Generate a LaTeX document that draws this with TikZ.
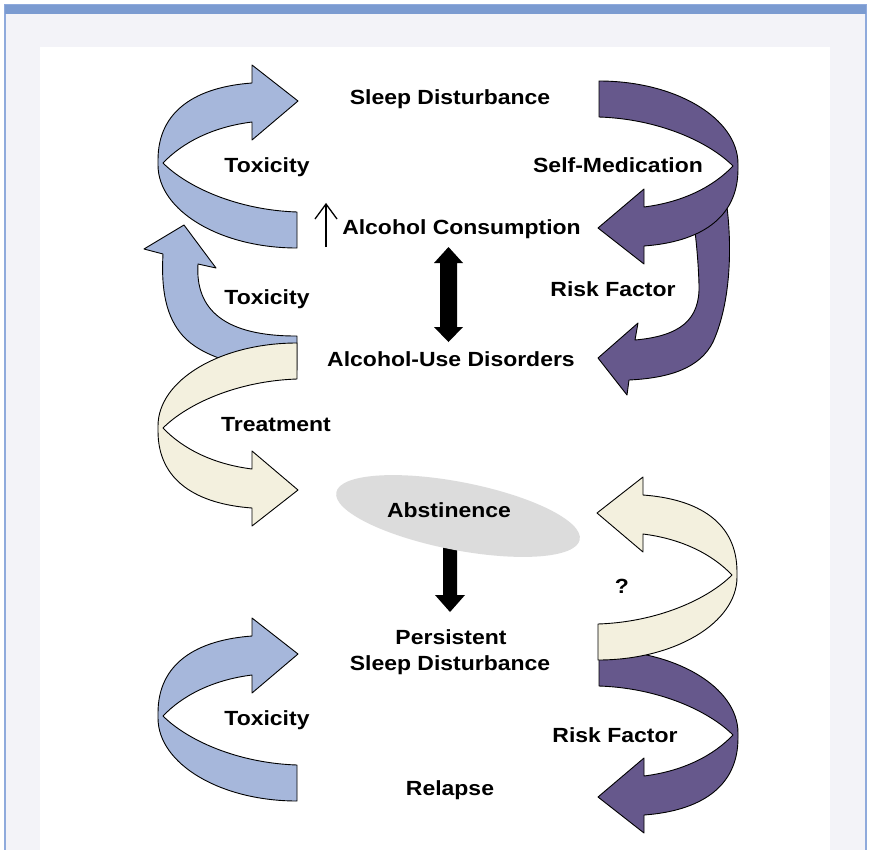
\documentclass[tikz,border=0pt]{standalone}
\usepackage{fontspec}
\newfontfamily\lab[FakeStretch=1.12]{Liberation Sans}
\definecolor{blueF}{RGB}{166,183,219}
\definecolor{purpF}{RGB}{102,88,140}
\definecolor{creamF}{RGB}{243,240,222}
\definecolor{grayE}{RGB}{220,220,220}
\definecolor{frameBar}{RGB}{123,155,209}
\definecolor{frameLine}{RGB}{143,170,220}
\definecolor{frameBg}{RGB}{243,243,248}
\newcommand\arrA{(0,83) .. controls (-76.7,83) and (-139,45.8) .. (-139,0) -- (-139,-5) .. controls (-139,-55) and (-100,-78) .. (-45,-82) -- (-45,-100) -- (1,-64) -- (-45,-25) -- (-45,-43) .. controls (-85,-38) and (-115,-22) .. (-134,-2) .. controls (-110,22) and (-60,45) .. (0,47) -- cycle}
\tikzset{
  lbl/.style={font=\lab\bfseries\fontsize{20.5}{24}\selectfont, inner sep=0pt, anchor=base},
  band/.style={draw=black, line width=0.9pt, line join=round},
}
\begin{document}
\begin{tikzpicture}[x=1pt,y=-1pt]
\useasboundingbox (0,0) rectangle (872,849);
% frame
\fill[white] (0,0) rectangle (872,849);
\draw[frameLine, line width=1.5pt, fill=frameBg] (5,5) rectangle (866,870);
\fill[frameBar] (5,5) rectangle (866,14);
\fill[white] (40,47) rectangle (830,870);

% top-left blue arrow
\begin{scope}[shift={(297,165)}]
  \draw[band, fill=blueF] \arrA;
\end{scope}
% second blue arrow (curving up)
\draw[band, fill=blueF] (297,336) -- (297,370) .. controls (240,370) and (200,355) .. (183,336)
  .. controls (166,317) and (161,290) .. (163,254) -- (144,249) -- (184,225) -- (216,268) -- (198,264)
  .. controls (195,310) and (225,336) .. (296,336) -- cycle;
% cream treatment arrow
\begin{scope}[shift={(297,426)}, yscale=-1]
  \draw[band, fill=creamF] \arrA;
\end{scope}

% second purple arrow (risk factor, top)
\draw[band, fill=purpF] (692,205) -- (726,200) .. controls (732,240) and (732,300) .. (713,342)
  .. controls (700,368) and (670,378) .. (629,380) -- (627,395) -- (598,358) -- (638,323) -- (635,340)
  .. controls (680,336) and (700,320) .. (699,285) .. controls (698,250) and (694,225) .. (692,205) -- cycle;
% first purple arrow (self-medication)
\begin{scope}[shift={(599,164)}, xscale=-1, yscale=-1]
  \draw[band, fill=purpF] \arrA;
\end{scope}

% bottom right purple arrow
\begin{scope}[shift={(599,733)}, xscale=-1, yscale=-1]
  \draw[band, fill=purpF] \arrA;
\end{scope}
% bottom right cream arrow
\begin{scope}[shift={(598,577)}, xscale=-1]
  \draw[band, fill=creamF] \arrA;
\end{scope}
% bottom left blue arrow
\begin{scope}[shift={(297,718)}]
  \draw[band, fill=blueF] \arrA;
\end{scope}

% labels
\node[lbl] (sd) at (450,104) {Sleep Disturbance};
\node[lbl] (tox1) at (267,172) {Toxicity};
\node[lbl] (selfmed) at (618,172) {Self-Medication};
\node[lbl] (ac) at (461.5,234) {Alcohol Consumption};
\node[lbl] (tox2) at (267,304) {Toxicity};
\node[lbl] (rf1) at (613,296) {Risk Factor};
\node[lbl] (aud) at (451,366) {Alcohol-Use Disorders};
\node[lbl] (treat) at (276,431) {Treatment};
\node[lbl] (q) at (622,593) {?};
\node[lbl] (pers) at (451,644) {Persistent};
\node[lbl] (psd) at (450,670) {Sleep Disturbance};
\node[lbl] (tox3) at (267,725) {Toxicity};
\node[lbl] (rf2) at (615,742) {Risk Factor};
\node[lbl] (relapse) at (450,795) {Relapse};

% up arrow next to alcohol consumption
\coordinate (upB) at (326,247);
\coordinate (upT) at (326,204);
\draw[line width=1.3pt] (upB) -- (upT);
\draw[line width=1.3pt, line join=miter] ([xshift=-11]upT) ++(0,15) -- (upT) -- ++(11,15);

% double arrow between alcohol consumption and AUD
\coordinate (dT) at (448.5,247);
\coordinate (dB) at (448.5,342);
\fill[black] (dT) -- ++(14.5,16) -- ++(-6,0) -- ++(0,64) -- ++(6,0) -- (dB) -- ++(-14.5,-15) -- ++(6,0) -- ++(0,-64) -- ++(-6,0) -- cycle;

% abstinence ellipse with arrow down
\coordinate (aS) at (450,540);
\coordinate (aE) at (450,612);
\fill[black] (aS) ++(-7,0) -- ++(14,0) -- ++(0,55) -- ++(8,0) -- (aE) -- ++(-15,-17) -- ++(8,0) -- cycle;
\fill[grayE, rotate around={-11:(458,516)}] (458,516) ellipse [x radius=124, y radius=34];
\node[lbl] (abst) at (449,517) {Abstinence};
\end{tikzpicture}
\end{document}
